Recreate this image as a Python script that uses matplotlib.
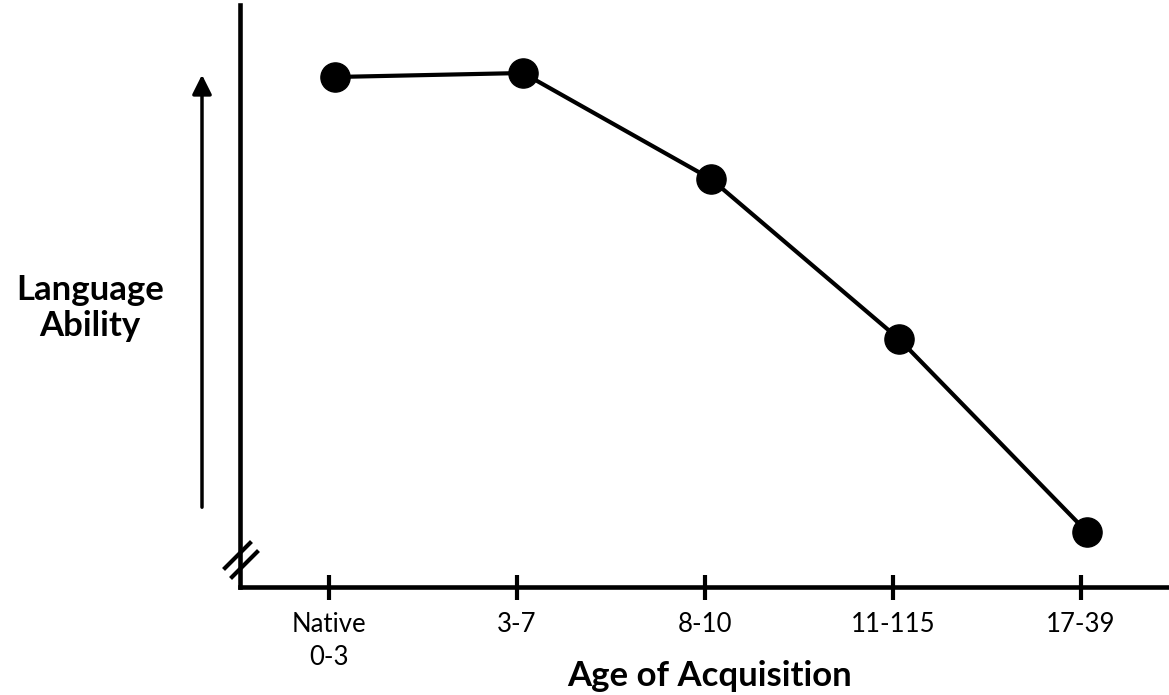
import matplotlib
matplotlib.use("Agg")
import matplotlib.pyplot as plt
from matplotlib.lines import Line2D

# Data
categories = ["Native\n0-3", "3-7", "8-10", "11-115", "17-39"]
ability = [510, 514, 408, 248, 55]   # relative language ability (arbitrary units)

W, H = 1169, 695
fig = plt.figure(figsize=(W / 100, H / 100), dpi=100)
plt.rcParams['font.family'] = ['Lato', 'DejaVu Sans']

ax_left, ax_bottom, ax_top = 240, 587, 5
ax = fig.add_axes([ax_left / W, (H - ax_bottom) / H, (W - ax_left) / W, (ax_bottom - ax_top) / H])

x = list(range(len(categories)))
px_per_cat = 188.0
first_tick_px = 329
ax.set_xlim(-(first_tick_px - ax_left) / px_per_cat, (W - first_tick_px) / px_per_cat)
ax.set_ylim(0, ax_bottom - ax_top)

offset = 6 / px_per_cat
ax.plot([v + offset for v in x], ability, color='black', lw=3, marker='o',
        markersize=21, markerfacecolor='black', markeredgecolor='black', solid_capstyle='round',
        zorder=3, clip_on=False)

for s in ['top', 'right']:
    ax.spines[s].set_visible(False)
for s in ['left', 'bottom']:
    ax.spines[s].set_linewidth(3.3)
    ax.spines[s].set_color('black')

ax.set_yticks([])
ax.set_xticks(x)
ax.set_xticklabels(categories, fontsize=18.5, linespacing=1.4)
ax.tick_params(axis='x', direction='inout', length=18, width=3, pad=9, colors='black')

# x label
fig.text(710 / W, 1 - 676 / H, "Age of Acquisition", ha='center', va='center',
         fontsize=25, fontweight='bold')

# y label
fig.text(90 / W, 1 - 308 / H, "Language\nAbility", ha='center', va='center',
         fontsize=25, fontweight='bold', linespacing=1.15)

# arrow
fig.add_artist(matplotlib.patches.FancyArrowPatch(
    (202 / W, 1 - 510 / H), (202 / W, 1 - 72 / H), transform=fig.transFigure,
    arrowstyle='-|>,head_length=9,head_width=4.5', lw=2.5, color='black', mutation_scale=1.3))

# axis break marks
for (x0, y0, x1, y1) in [(225, 568, 250, 543), (232, 577, 257, 552)]:
    fig.add_artist(Line2D([x0 / W, x1 / W], [1 - y0 / H, 1 - y1 / H], transform=fig.transFigure,
                          color='black', lw=3))

fig.savefig("out.png", dpi=100, facecolor='white')
